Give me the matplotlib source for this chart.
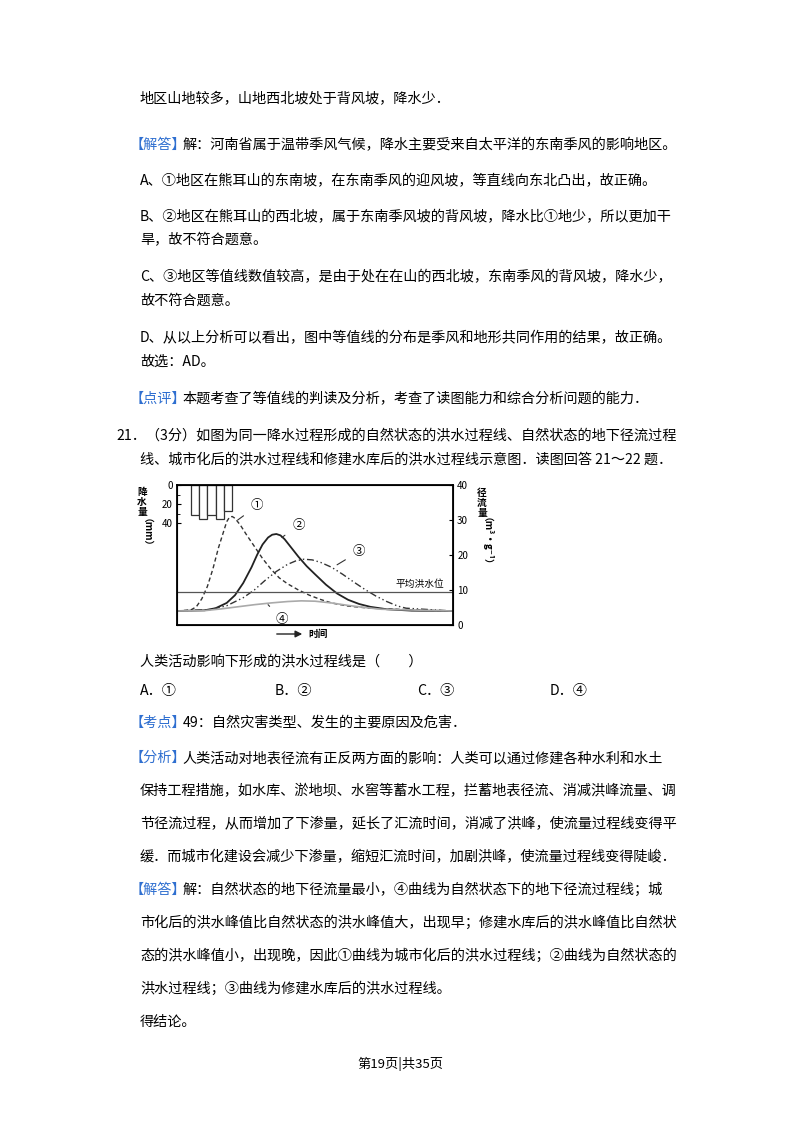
import matplotlib
matplotlib.use("Agg")
import matplotlib.pyplot as plt
import numpy as np

plt.rcParams['font.family'] = ['Noto Sans CJK SC', 'DejaVu Sans']

rain_x = [5, 8, 11, 14, 17]
rain_v = [31, 36, 31, 36, 27]

c1_x = [0, 5, 7, 9, 11, 13, 15, 17, 18, 19, 20, 21, 23, 25, 28, 31, 34, 37, 40, 44, 48, 52, 56, 62, 70, 83, 100]
c1_y = [4, 4.3, 5.2, 7.5, 11, 16, 22, 27, 29.5, 30.8, 31, 30.5, 28.5, 26, 22.5, 19, 16, 13.5, 11.8, 10, 8.5, 7.3, 6.3, 5.4, 4.8, 4.4, 4]
c2_x = [0, 10, 14, 18, 21, 24, 27, 29, 31, 33, 34.5, 36, 37.5, 39, 41, 44, 47, 50, 54, 58, 62, 66, 70, 76, 85, 100]
c2_y = [4, 4.2, 4.8, 6.3, 8.5, 12, 16.5, 20, 23, 25, 25.8, 26, 25.6, 24.5, 22.5, 19.5, 16.8, 14.5, 11.5, 9, 7.2, 6, 5.2, 4.5, 4.1, 4]
c3_x = [0, 12, 18, 24, 28, 32, 36, 40, 43, 46, 49, 52, 56, 60, 64, 68, 72, 76, 80, 83, 100]
c3_y = [4, 4.4, 5.5, 7.8, 10, 12.8, 15.3, 17.3, 18.3, 18.8, 18.6, 17.9, 16.5, 14.5, 12.3, 10.2, 8.3, 6.7, 5.4, 4.8, 4]
c4_x = [0, 10, 16, 22, 28, 34, 40, 45, 50, 56, 62, 68, 74, 100]
c4_y = [4, 4.1, 4.6, 5.2, 5.8, 6.3, 6.7, 6.9, 6.8, 6.3, 5.6, 5.0, 4.5, 4]
flood_level = 9.5

fig = plt.figure(figsize=(8, 11.32), dpi=100)
FS = 10.2
BLUE = '#2f6fd0'
CW = 14.1

def T(x, y, s, **kw):
    fig.text(x / 800, 1 - y / 1132, s, fontsize=kw.pop('fs', FS), va='center', ha=kw.pop('ha', 'left'), **kw)

def L(x, y, tag, s):
    T(x, y, tag, color=BLUE)
    T(x + CW * len(tag) - 4, y, s)

T(140, 99, "地区山地较多，山地西北坡处于背风坡，降水少．")
L(130, 145, "【解答】", "解：河南省属于温带季风气候，降水主要受来自太平洋的东南季风的影响地区。")
T(140, 181, "A、①地区在熊耳山的东南坡，在东南季风的迎风坡，等直线向东北凸出，故正确。")
T(140, 217, "B、②地区在熊耳山的西北坡，属于东南季风坡的背风坡，降水比①地少，所以更加干")
T(140, 240, "旱，故不符合题意。")
T(140, 277, "C、③地区等值线数值较高，是由于处在在山的西北坡，东南季风的背风坡，降水少，")
T(140, 301, "故不符合题意。")
T(140, 338, "D、从以上分析可以看出，图中等值线的分布是季风和地形共同作用的结果，故正确。")
T(140, 362, "故选：AD。")
L(130, 399, "【点评】", "本题考查了等值线的判读及分析，考查了读图能力和综合分析问题的能力．")
T(116, 435, "21．（3分）如图为同一降水过程形成的自然状态的洪水过程线、自然状态的地下径流过程")
T(140, 459, "线、城市化后的洪水过程线和修建水库后的洪水过程线示意图．读图回答 21～22 题．")
T(140, 661, "人类活动影响下形成的洪水过程线是（　　）")
T(140, 691, "A．①")
T(275, 691, "B．②")
T(417, 691, "C．③")
T(550, 691, "D．④")
L(130, 723, "【考点】", "49：自然灾害类型、发生的主要原因及危害．")
L(130, 758, "【分析】", "人类活动对地表径流有正反两方面的影响：人类可以通过修建各种水利和水土")
T(140, 791, "保持工程措施，如水库、淤地坝、水窖等蓄水工程，拦蓄地表径流、消减洪峰流量、调")
T(140, 824, "节径流过程，从而增加了下渗量，延长了汇流时间，消减了洪峰，使流量过程线变得平")
T(140, 857, "缓．而城市化建设会减少下渗量，缩短汇流时间，加剧洪峰，使流量过程线变得陡峻．")
L(130, 890, "【解答】", "解：自然状态的地下径流量最小，④曲线为自然状态下的地下径流过程线；城")
T(140, 923, "市化后的洪水峰值比自然状态的洪水峰值大，出现早；修建水库后的洪水峰值比自然状")
T(140, 956, "态的洪水峰值小，出现晚，因此①曲线为城市化后的洪水过程线；②曲线为自然状态的")
T(140, 989, "洪水过程线；③曲线为修建水库后的洪水过程线。")
T(140, 1022, "得结论。")
T(400, 1064, "第19页|共35页", ha='center', fs=9.5)

# chart
ax = fig.add_axes([177 / 800, 1 - 625 / 1132, 276 / 800, 140 / 1132])
ax2 = ax.twinx()
ax.set_xlim(0, 100)
ax.set_ylim(0, 40)
ax.plot(c1_x, c1_y, color='#333', lw=1.0, ls=(0, (3, 2)))
ax.plot(c2_x, c2_y, color='#222', lw=1.3)
ax.plot(c3_x, c3_y, color='#333', lw=1.0, ls=(0, (5, 2, 1, 2, 1, 2)))
ax.plot(c4_x, c4_y, color='#aaa', lw=1.2)
ax.axhline(flood_level, color='#555', lw=0.9)
ax.text(97, flood_level + 0.8, "平均洪水位", fontsize=7, ha='right', va='bottom')
ax.set_xticks([])
ax.yaxis.tick_right()
ax.set_yticks([0, 10, 20, 30, 40])
ax.tick_params(axis='y', labelsize=7, length=3, direction='in', pad=3)
for s in ax.spines.values():
    s.set_linewidth(1.3)
ax2.yaxis.tick_left()
ax2.set_ylim(147, 0)
ax2.set_yticks([0, 20, 40])
ax2.set_yticks([10, 30], minor=True)
ax2.tick_params(axis='y', labelsize=7, length=3, direction='in', pad=3)
ax2.tick_params(axis='y', which='minor', length=2, direction='in')
ax2.bar(rain_x, rain_v, width=3, bottom=0, color='white', edgecolor='#333', lw=0.9, align='edge')
ax2.set_xlim(0, 100)
ax2.set_xticks([])

for (tx, ty, px, py, s) in [(29, 34, 22, 30, '①'), (44, 28.5, 38, 25, '②'), (66, 21, 58, 17.2, '③'), (38, 1.5, 33, 5.8, '④')]:
    ax2.annotate(s, xy=(px, 147 - py * 147 / 40), xytext=(tx, 147 - ty * 147 / 40), fontsize=9, ha='center', va='center',
                 arrowprops=dict(arrowstyle='-', color='#333', lw=0.8, shrinkA=4, shrinkB=0), annotation_clip=False)
fig.text(142 / 800, 1 - 502 / 1132, "降\n水\n量", fontsize=7, ha='center', va='center', linespacing=1.05, fontweight='bold')
fig.text(142 / 800, 1 - 537 / 1132, "（mm）", fontsize=7, ha='center', va='center', rotation=-90, fontweight='bold')
fig.text(482 / 800, 1 - 503 / 1132, "径\n流\n量", fontsize=7, ha='center', va='center', linespacing=1.05, fontweight='bold')
fig.text(482 / 800, 1 - 546 / 1132, "（m³·g⁻¹）", fontsize=7, ha='center', va='center', rotation=-90, fontweight='bold')
ax.annotate("", xy=(305 / 800, 1 - 634 / 1132), xytext=(274 / 800, 1 - 634 / 1132),
            xycoords='figure fraction', textcoords='figure fraction', annotation_clip=False,
            arrowprops=dict(arrowstyle='-|>', color='#222', lw=1))
fig.text(308 / 800, 1 - 634 / 1132, "时间", fontsize=7, va='center', fontweight='bold')

fig.savefig("out.png", dpi=100)
